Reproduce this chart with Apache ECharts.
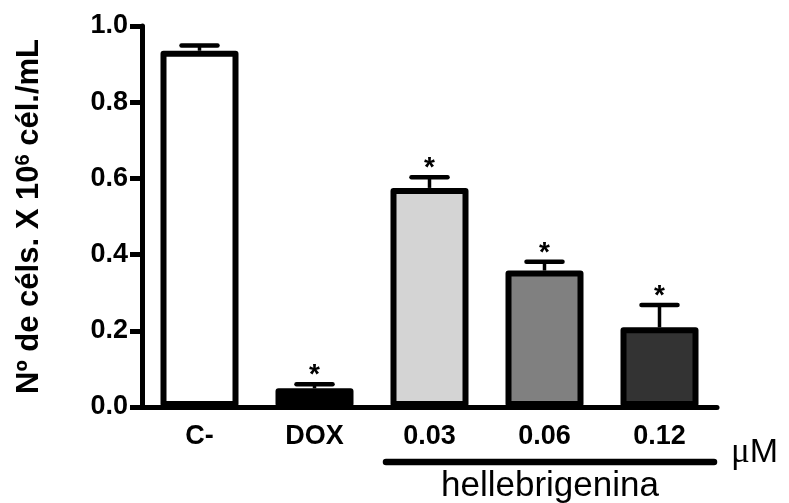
<!DOCTYPE html>
<html>
<head>
<meta charset="utf-8">
<script src="https://cdn.jsdelivr.net/npm/echarts@6/dist/echarts.min.js"></script>
<style>html,body{margin:0;padding:0;background:#fff}#c{width:789px;height:503px}</style>
</head>
<body>
<div id="c"></div>
<script>
// ---- data ----
const categories = ['C-', 'DOX', '0.03', '0.06', '0.12'];
const means = [0.935, 0.049, 0.575, 0.358, 0.209];
const sems = [0.014, 0.011, 0.028, 0.023, 0.059];
const significant = [false, true, true, true, true];
const yTicks = [0.0, 0.2, 0.4, 0.6, 0.8, 1.0];
const groupLabel = 'hellebrigenina';
const unitLabel = 'μM';
// ---- style ----
const fills = ['#ffffff', '#000000', '#d4d4d4', '#808080', '#333333'];
const FONT = 'Liberation Sans, Arial, Helvetica, sans-serif';

const chart = echarts.init(document.getElementById('c'), null, {renderer: 'canvas'});

const option = {
  animation: false,
  backgroundColor: '#ffffff',
  grid: {left: 142, right: 72, top: 26, bottom: 96, containLabel: false},
  xAxis: {
    type: 'category',
    data: categories,
    axisLine: {lineStyle: {color: '#000', width: 5}},
    axisTick: {show: false},
    axisLabel: {color: '#000', fontFamily: FONT, fontWeight: 'bold', fontSize: 27, margin: 16},
    splitLine: {show: false}
  },
  yAxis: {
    type: 'value',
    min: yTicks[0], max: yTicks[yTicks.length - 1], interval: 0.2,
    axisLine: {show: true, lineStyle: {color: '#000', width: 5}},
    axisTick: {show: true, inside: false, length: 12, lineStyle: {color: '#000', width: 5}},
    axisLabel: {color: '#000', fontFamily: FONT, fontWeight: 'bold', fontSize: 27, margin: 14,
      formatter: v => v.toFixed(1)},
    splitLine: {show: false},
    name: '{a|Nº de céls. X 10}{s|6}{a| cél./mL}',
    nameLocation: 'middle',
    nameRotate: 90,
    nameGap: 97,
    nameTextStyle: {
      color: '#000',
      rich: {
        a: {fontFamily: FONT, fontWeight: 'bold', fontSize: 31, lineHeight: 32, color: '#000'},
        s: {fontFamily: FONT, fontWeight: 'bold', fontSize: 20, lineHeight: 24, verticalAlign: 'top', color: '#000'}
      }
    }
  },
  series: [
    {
      type: 'bar',
      barWidth: 78,
      data: means.map((v, i) => ({value: v, itemStyle: {color: fills[i]}})),
      itemStyle: {borderColor: '#000', borderWidth: 6, borderJoin: 'round'},
      z: 3
    },
    {
      type: 'custom',
      z: 2,
      data: categories.map((c, i) => [i, means[i], sems[i], significant[i] ? 1 : 0]),
      renderItem: function (params, api) {
        const idx = api.value(0), m = api.value(1), e = api.value(2), sig = api.value(3);
        const base = api.coord([idx, m]);
        const top = api.coord([idx, m + e]);
        const children = [
          {type: 'line', shape: {x1: base[0], y1: base[1], x2: top[0], y2: top[1]},
            style: {stroke: '#000', lineWidth: 3.5}},
          {type: 'line', shape: {x1: top[0] - 18, y1: top[1], x2: top[0] + 18, y2: top[1]},
            style: {stroke: '#000', lineWidth: 4.5, lineCap: 'round'}}
        ];
        if (sig) {
          children.push({type: 'text', x: top[0], y: top[1] - 9,
            style: {text: '*', fill: '#000', font: 'bold 28px ' + FONT, align: 'center', verticalAlign: 'middle'}});
        }
        return {type: 'group', children: children};
      }
    }
  ]
};
chart.setOption(option);

// annotations under the x axis, placed from the axis scale
const p2 = chart.convertToPixel({gridIndex: 0}, [2, 0]);
const p3 = chart.convertToPixel({gridIndex: 0}, [3, 0]);
const p4 = chart.convertToPixel({gridIndex: 0}, [4, 0]);
const band = p3[0] - p2[0];
const bx1 = p2[0] - band / 2 + 14;
const bx2 = p4[0] + band / 2 - 3;
const by = p2[1] + 55;
chart.setOption({
  graphic: [
    {type: 'line', shape: {x1: bx1, y1: by, x2: bx2, y2: by},
      style: {stroke: '#000', lineWidth: 6.5, lineCap: 'round'}},
    {type: 'text', x: (bx1 + bx2) / 2, y: p2[1] + 79,
      style: {text: groupLabel, fill: '#000', font: '35px ' + FONT, align: 'center', verticalAlign: 'middle'}},
    {type: 'text', x: bx2 + 17, y: by - 9,
      style: {text: '{mu|μ}{m|M}', align: 'left', verticalAlign: 'middle',
        rich: {mu: {fontFamily: 'Liberation Serif, Times New Roman, serif', fontSize: 35, fill: '#000', color: '#000'},
               m: {fontFamily: FONT, fontSize: 34, fill: '#000', color: '#000'}}}}
  ]
});
</script>
</body>
</html>
